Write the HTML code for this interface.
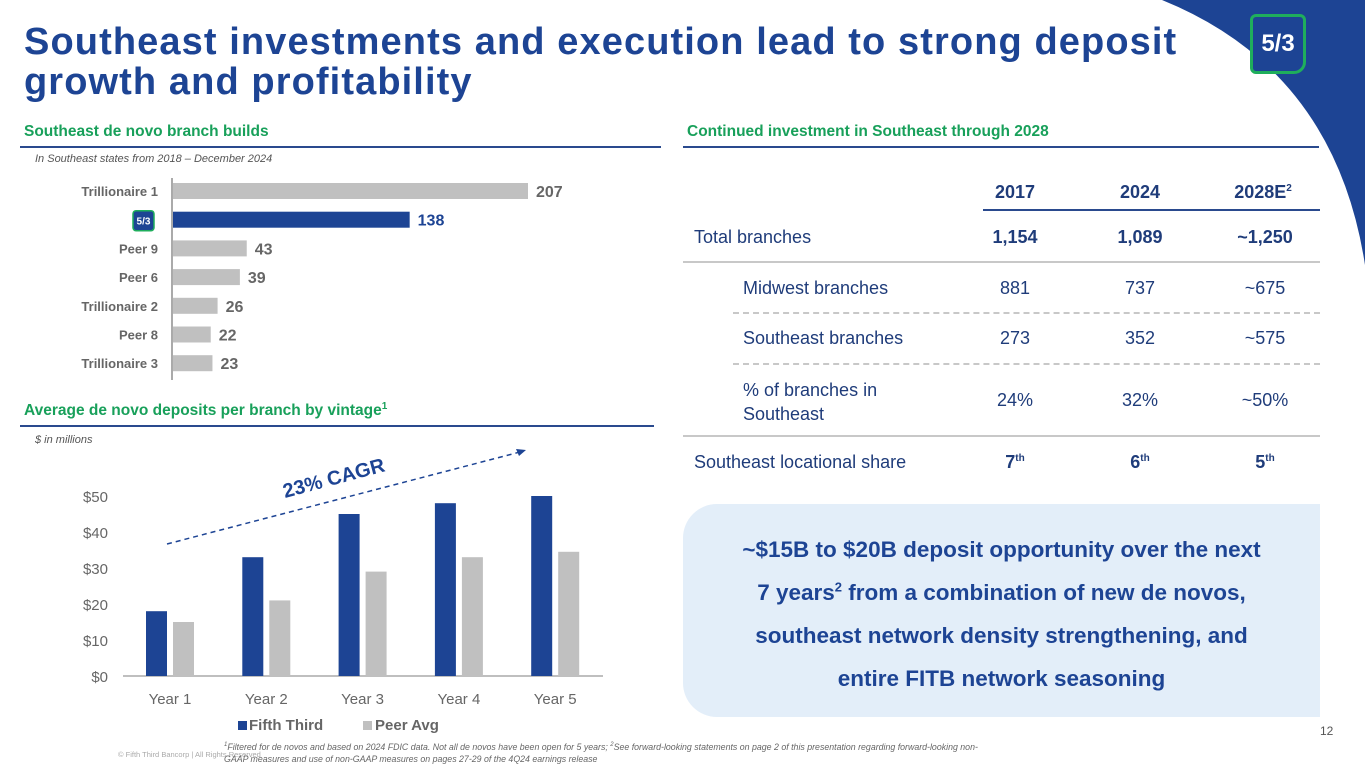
<!DOCTYPE html>
<html><head><meta charset="utf-8">
<style>
*{margin:0;padding:0;box-sizing:border-box}
body{width:1365px;height:768px;position:relative;overflow:hidden;background:#fff;font-family:"Liberation Sans",sans-serif;color:#1f3c7a}
.a{position:absolute;white-space:nowrap}
.title{left:24px;top:22px;font-size:38px;font-weight:bold;color:#1d4494;line-height:40px;letter-spacing:1.1px}
.sec{font-size:15.5px;font-weight:bold;color:#18a05a}
.rule{position:absolute;height:2px;background:#2a4a8e}
.note{font-size:11px;font-style:italic;color:#555}
.c{text-align:center;width:110px;font-size:18px}
.b{font-weight:bold}
.lbl{font-size:18px}
sup{font-size:10px;line-height:0}
</style></head><body>
<svg class="a" style="left:0;top:0" width="1365" height="768">
<path d="M1162,0 Q1335,70 1365,265 L1365,0 Z" fill="#1d4494"/>
</svg>
<div class="a" style="left:1250px;top:14px;width:56px;height:60px;border:3px solid #1fae5c;border-radius:6px 6px 12px 6px;background:#1d4494;color:#fff;font-weight:bold;font-size:24px;text-align:center;line-height:54px">5/3</div>

<div class="a title">Southeast investments and execution lead to strong deposit<br>growth and profitability</div>

<div class="a sec" style="left:24px;top:123px">Southeast de novo branch builds</div>
<div class="rule" style="left:20px;top:146px;width:641px"></div>
<div class="a note" style="left:35px;top:153px">In Southeast states from 2018 – December 2024</div>

<svg class="a" style="left:0;top:170px" width="680" height="215" id="hbar"></svg>

<div class="a sec" style="left:24px;top:402px">Average de novo deposits per branch by vintage<sup>1</sup></div>
<div class="rule" style="left:20px;top:425px;width:634px"></div>
<div class="a note" style="left:35px;top:434px">$ in millions</div>

<svg class="a" style="left:0;top:440px" width="680" height="300" id="vbar"></svg>

<div class="a" style="left:118px;top:750px;font-size:7.5px;color:#aaa">© Fifth Third Bancorp | All Rights Reserved</div>
<div class="a" style="left:224px;top:741px;font-size:8.8px;font-style:italic;color:#666;line-height:12px"><sup style="font-size:6px">1</sup>Filtered for de novos and based on 2024 FDIC data. Not all de novos have been open for 5 years; <sup style="font-size:6px">2</sup>See forward-looking statements on page 2 of this presentation regarding forward-looking non-<br>GAAP measures and use of non-GAAP measures on pages 27-29 of the 4Q24 earnings release</div>
<div class="a" style="left:1320px;top:724px;font-size:12px;color:#555">12</div>

<div class="a sec" style="left:687px;top:123px">Continued investment in Southeast through 2028</div>
<div class="rule" style="left:683px;top:146px;width:636px"></div>

<div>
<div class="a c b" style="left:960px;top:182px">2017</div>
<div class="a c b" style="left:1085px;top:182px">2024</div>
<div class="a c b" style="left:1208px;top:182px">2028E<sup>2</sup></div>
<div class="a" style="left:983px;top:209px;width:337px;height:2px;background:#2a4a8e"></div>
<div class="a lbl" style="left:694px;top:227px">Total branches</div>
<div class="a c b" style="left:960px;top:227px">1,154</div>
<div class="a c b" style="left:1085px;top:227px">1,089</div>
<div class="a c b" style="left:1210px;top:227px">~1,250</div>
<div class="a" style="left:683px;top:261px;width:637px;height:2px;background:#c8c8c8"></div>
<div class="a lbl" style="left:743px;top:278px">Midwest branches</div>
<div class="a c" style="left:960px;top:278px">881</div>
<div class="a c" style="left:1085px;top:278px">737</div>
<div class="a c" style="left:1210px;top:278px">~675</div>
<div class="a" style="left:733px;top:312px;width:587px;border-top:2px dashed #c8c8c8"></div>
<div class="a lbl" style="left:743px;top:328px">Southeast branches</div>
<div class="a c" style="left:960px;top:328px">273</div>
<div class="a c" style="left:1085px;top:328px">352</div>
<div class="a c" style="left:1210px;top:328px">~575</div>
<div class="a" style="left:733px;top:363px;width:587px;border-top:2px dashed #c8c8c8"></div>
<div class="a lbl" style="left:743px;top:378px;line-height:24px">% of branches in<br>Southeast</div>
<div class="a c" style="left:960px;top:390px">24%</div>
<div class="a c" style="left:1085px;top:390px">32%</div>
<div class="a c" style="left:1210px;top:390px">~50%</div>
<div class="a" style="left:683px;top:435px;width:637px;height:2px;background:#c8c8c8"></div>
<div class="a lbl" style="left:694px;top:452px">Southeast locational share</div>
<div class="a c b" style="left:960px;top:452px">7<sup>th</sup></div>
<div class="a c b" style="left:1085px;top:452px">6<sup>th</sup></div>
<div class="a c b" style="left:1210px;top:452px">5<sup>th</sup></div>
</div>

<div class="a" style="left:683px;top:504px;width:637px;height:213px;background:#e3eef9;border-radius:34px 0 0 34px"></div>
<div class="a" style="left:683px;top:528px;width:637px;text-align:center;font-size:22.5px;font-weight:bold;color:#1d4494;line-height:43px;white-space:normal">~$15B to $20B deposit opportunity over the next<br>7 years<sup style="font-size:13px">2</sup> from a combination of new de novos,<br>southeast network density strengthening, and<br>entire FITB network seasoning</div>

<script>
const hCats=["Trillionaire 1","FITB","Peer 9","Peer 6","Trillionaire 2","Peer 8","Trillionaire 3"];
const hVals=[207,138,43,39,26,22,23];
const vCats=["Year 1","Year 2","Year 3","Year 4","Year 5"];
const vFifth=[18,33,45,48,50];
const vPeer=[15,21,29,33,34.5];
const vTicks=[0,10,20,30,40,50];
const NS="http://www.w3.org/2000/svg";
function mk(p,t,a,txt){const e=document.createElementNS(NS,t);for(const k in a)e.setAttribute(k,a[k]);if(txt!==undefined)e.textContent=txt;p.appendChild(e);return e;}
const h=document.getElementById('hbar');
const hx=v=>173+v*1.715;
const hy=i=>21+i*28.7;
let ax=mk(h,'line',{x1:172,y1:8,x2:172,y2:210,stroke:'#555','stroke-width':1});


hCats.forEach((c,i)=>{
  const fit=c==="FITB";
  const r=mk(h,'rect',{x:173,y:hy(i)-8,width:hx(hVals[i])-173,height:16,fill:fit?'#1d4494':'#c0c0c0'});
  
  
  const v=mk(h,'text',{x:hx(hVals[i])+8,y:hy(i)+6,'font-size':16,'font-weight':'bold',fill:fit?'#1d4494':'#666','font-family':'Liberation Sans'},hVals[i]);
  
  
  if(fit){
    const g=mk(h,'rect',{x:133,y:hy(i)-9,width:21,height:20,rx:3,fill:'#1d4494',stroke:'#1fae5c','stroke-width':1.5});
    
    
    mk(h,'text',{x:143.5,y:hy(i)+5,'font-size':10,'font-weight':'bold',fill:'#fff','text-anchor':'middle','font-family':'Liberation Sans'},'5/3');
  } else {
    const l=mk(h,'text',{x:158,y:hy(i)+5,'font-size':13,'font-weight':'bold',fill:'#666','text-anchor':'end','font-family':'Liberation Sans'},c);
    
    
  }
});
const s=document.getElementById('vbar');
const vy=v=>236-v*3.6;
const vx=i=>170+i*96.3;
vTicks.forEach(t=>{
  const l=mk(s,'text',{x:108,y:vy(t)+6,'font-size':15,fill:'#666','text-anchor':'end','font-family':'Liberation Sans'},'$'+t);
  
  
});
mk(s,'line',{x1:123,y1:236,x2:603,y2:236,stroke:'#aaa','stroke-width':1.5});
vCats.forEach((c,i)=>{
  const b1=mk(s,'rect',{x:vx(i)-24,y:vy(vFifth[i]),width:21,height:vFifth[i]*3.6,fill:'#1d4494'});
  
  
  const b2=mk(s,'rect',{x:vx(i)+3,y:vy(vPeer[i]),width:21,height:vPeer[i]*3.6,fill:'#c0c0c0'});
  
  
  const l=mk(s,'text',{x:vx(i),y:264,'font-size':15,fill:'#666','text-anchor':'middle','font-family':'Liberation Sans'},c);
  
  
});
const cg=mk(s,'line',{x1:167,y1:104,x2:520,y2:12,stroke:'#1d4494','stroke-width':1.5,'stroke-dasharray':'5,4'});


mk(s,'polygon',{points:'526,10 516,9 519,16',fill:'#1d4494'});
const ct=mk(s,'text',{x:285,y:58,'font-size':20,'font-weight':'bold',fill:'#1d4494','font-family':'Liberation Sans',transform:'rotate(-15 285 58)'},'23% CAGR');


const lg1=mk(s,'rect',{x:238,y:281,width:9,height:9,fill:'#1d4494'});


mk(s,'text',{x:249,y:290,'font-size':15,'font-weight':'bold',fill:'#666','font-family':'Liberation Sans'},'Fifth Third');
const lg2=mk(s,'rect',{x:363,y:281,width:9,height:9,fill:'#c0c0c0'});


mk(s,'text',{x:375,y:290,'font-size':15,'font-weight':'bold',fill:'#666','font-family':'Liberation Sans'},'Peer Avg');
</script>
</body></html>
